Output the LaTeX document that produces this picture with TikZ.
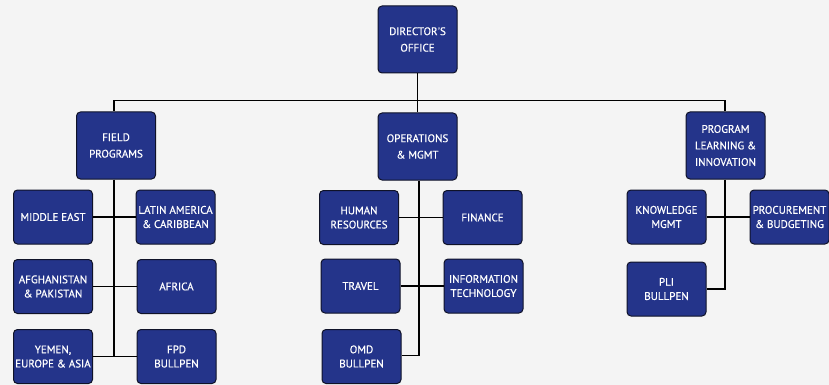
\documentclass[tikz,border=0pt]{standalone}
\usepackage{fontspec}
\setmainfont{PT Sans}
\newfontfamily\boxfont[FakeBold=0.5]{PT Sans}
\definecolor{bgc}{RGB}{244,244,244}
\definecolor{boxc}{RGB}{36,52,138}
\definecolor{edgec}{RGB}{15,18,40}
\begin{document}
\begin{tikzpicture}[x=1pt,y=-1pt,
  box/.style={draw=edgec,line width=1pt,fill=boxc,rounded corners=4pt,text=white,
    align=center,font=\boxfont\fontsize{11}{14.2}\selectfont,inner sep=1pt,
    minimum width=79pt,minimum height=54pt},
  bigbox/.style={box,minimum height=67pt,font=\boxfont\fontsize{11}{16.5}\selectfont},
  conn/.style={draw=black,line width=1.9pt}]
\fill[bgc] (0,0) rectangle (829,385);
\useasboundingbox (0,0) rectangle (829,385);
% level 1 and 2
\node[bigbox] (dir) at (417.5,39.5) {DIRECTOR'S\\OFFICE};
\node[bigbox] (ops) at (417.5,146.5) {OPERATIONS\\\& MGMT};
\node[bigbox] (fp) at (116,145.5) {FIELD\\PROGRAMS};
\node[bigbox] (pli) at (725.5,145.5) {PROGRAM\\LEARNING \&\\INNOVATION};
% field programs
\node[box] (me) at (53,217) {MIDDLE EAST};
\node[box] (la) at (175.5,217) {LATIN AMERICA\\\& CARIBBEAN};
\node[box] (ap) at (53,286.5) {AFGHANISTAN\\\& PAKISTAN};
\node[box] (af) at (176.5,286.5) {AFRICA};
\node[box] (ye) at (53,356.5) {YEMEN,\\EUROPE \& ASIA};
\node[box] (fpd) at (176.5,356.5) {FPD\\BULLPEN};
% operations
\node[box] (hr) at (359,217.5) {HUMAN\\RESOURCES};
\node[box] (fin) at (482.5,217.5) {FINANCE};
\node[box] (tr) at (360.5,286) {TRAVEL};
\node[box] (it) at (483.5,286) {INFORMATION\\TECHNOLOGY};
\node[box] (omd) at (361.5,356.5) {OMD\\BULLPEN};
% program learning
\node[box] (km) at (666.5,217) {KNOWLEDGE\\MGMT};
\node[box] (pb) at (789.5,217) {PROCUREMENT\\\& BUDGETING};
\node[box] (plib) at (666.5,289) {PLI\\BULLPEN};
% connectors
\coordinate (busL) at (114,100.5);
\coordinate (busR) at (725,100.5);
\draw[conn] (dir.south) -- (dir.south |- busL);
\draw[conn] (busL) -- (busR);
\draw[conn] (busL) -- (busL |- fp.north);
\draw[conn] (ops.north) -- (ops.north |- busL);
\draw[conn] (busR) -- (busR |- pli.north);
% field
\coordinate (fpend) at (114,356);
\draw[conn] (fpend |- fp.south) -- (fpend);
\draw[conn] (me.east) -- (la.west |- me.east);
\draw[conn] (ap.east) -- (af.west |- ap.east);
\draw[conn] (ye.east) -- (fpd.west |- ye.east);
% ops
\coordinate (opend) at (419,355.5);
\draw[conn] (opend |- ops.south) -- (opend) -- (omd.east |- opend);
\draw[conn] (hr.east) -- (fin.west |- hr.east);
\draw[conn] (tr.east) -- (it.west |- tr.east);
% pli
\coordinate (pliend) at (725,289);
\draw[conn] (pliend |- pli.south) -- (pliend) -- (plib.east);
\draw[conn] (km.east) -- (pb.west |- km.east);
\end{tikzpicture}
\end{document}
